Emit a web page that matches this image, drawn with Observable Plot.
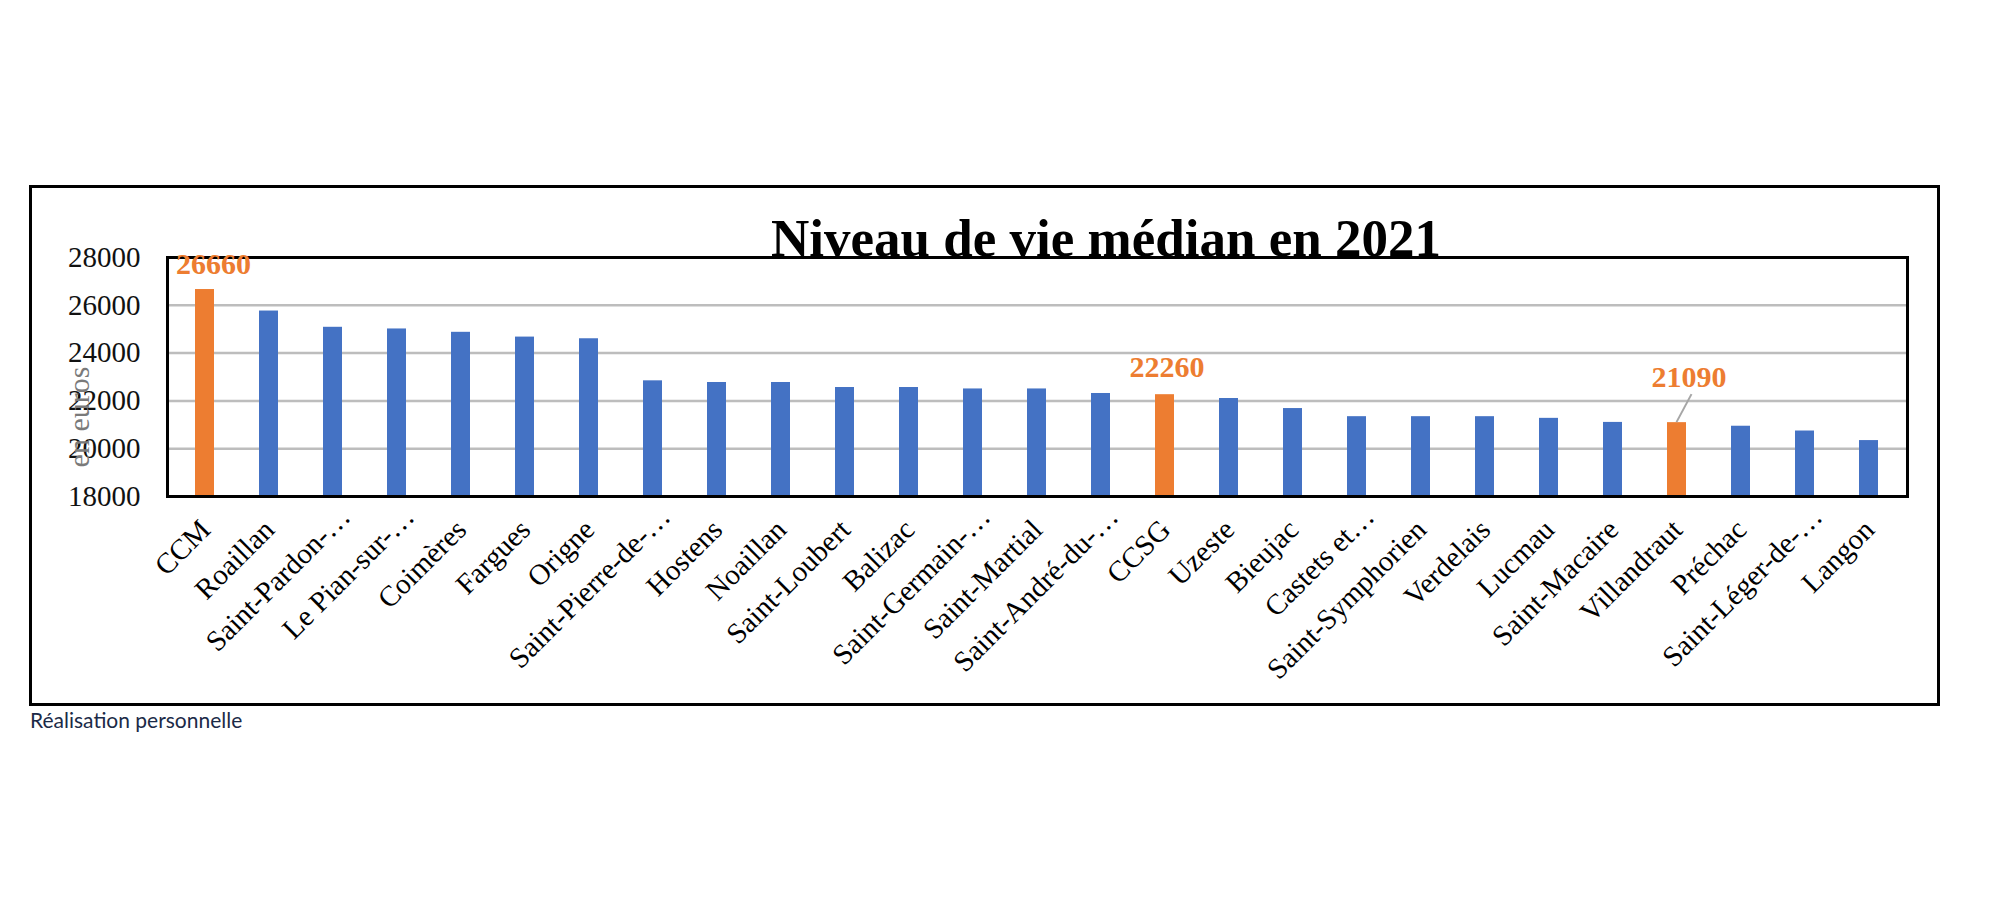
<!DOCTYPE html>
<html>
<head>
<meta charset="utf-8">
<script src="https://cdn.jsdelivr.net/npm/d3@7"></script>
<script src="https://cdn.jsdelivr.net/npm/@observablehq/plot@0.6"></script>
<style>
html, body { margin: 0; padding: 0; background: #fff; }
#page { position: relative; width: 2000px; height: 904px; overflow: hidden; background: #fff; }
#frame { position: absolute; left: 29px; top: 185px; width: 1911px; height: 521px; border: 3px solid #000; box-sizing: border-box; }
#title { position: absolute; left: 1106px; top: 212px; transform: translateX(-50%); margin: 0; font: bold 53px "Liberation Serif", "Times New Roman", serif; line-height: 1; white-space: nowrap; color: #000; }
#chart { position: absolute; left: 0; top: 0; width: 2000px; height: 904px; }
#caption { position: absolute; left: 30px; top: 708px; font: 21px Lato, "Open Sans", sans-serif; line-height: 24px; color: #1b2a47; white-space: nowrap; }
</style>
</head>
<body>
<div id="page">
  <div id="frame"></div>
  <h1 id="title"></h1>
  <div id="chart"></div>
  <div id="caption"></div>
</div>
<script>
// ---- Data ----
const titleText = "Niveau de vie médian en 2021";
const captionText = "Réalisation personnelle";
const yLabel = "en euros";

const communes = [
  "CCM", "Roaillan", "Saint-Pardon-…", "Le Pian-sur-…", "Coimères", "Fargues", "Origne",
  "Saint-Pierre-de-…", "Hostens", "Noaillan", "Saint-Loubert", "Balizac", "Saint-Germain-…",
  "Saint-Martial", "Saint-André-du-…", "CCSG", "Uzeste", "Bieujac", "Castets et…",
  "Saint-Symphorien", "Verdelais", "Lucmau", "Saint-Macaire", "Villandraut", "Préchac",
  "Saint-Léger-de-…", "Langon"
];
const niveauDeVie = [
  26660, 25760, 25080, 25010, 24870, 24670, 24600,
  22840, 22770, 22770, 22560, 22560, 22500,
  22500, 22310, 22260, 22100, 21680, 21340,
  21340, 21340, 21270, 21100, 21090, 20940,
  20740, 20340
];
const highlighted = ["CCM", "CCSG", "Villandraut"];
const yTicks = [18000, 20000, 22000, 24000, 26000, 28000];
const yGrid = [20000, 22000, 24000, 26000];
const yDomain = [18000, 28000];

// ---- Build ----
document.getElementById("title").textContent = titleText;
document.getElementById("caption").textContent = captionText;

const data = communes.map((c, i) => ({
  commune: c,
  valeur: niveauDeVie[i],
  groupe: highlighted.includes(c) ? "mis en avant" : "commune"
}));

const serif = '"Liberation Serif", "Times New Roman", serif';
const orange = "#ED7D31";
const truncated = d => d.commune.endsWith("…");

const valueLabel = (name, dx, dy) =>
  Plot.text(data.filter(d => d.commune === name), {
    x: "commune", y: "valeur", text: d => String(d.valeur),
    dx, dy, fontSize: 30, fontWeight: "bold", fill: orange, fontFamily: serif,
    textAnchor: "middle", lineAnchor: "middle"
  });

const xLabels = (rows, dx, dy) =>
  Plot.text(rows, { x: "commune", frameAnchor: "bottom", text: "commune", rotate: -45,
    textAnchor: "end", lineAnchor: "bottom", dx, dy, fontSize: 29, fill: "#000", fontFamily: serif });

const plot = Plot.plot({
  width: 2000,
  height: 904,
  marginLeft: 167,
  marginRight: 93,
  marginTop: 257,
  marginBottom: 408,
  style: { background: "transparent", fontFamily: serif, fontSize: "29px", overflow: "visible" },
  x: { domain: communes, paddingInner: 0.7, paddingOuter: 0.35, axis: null },
  y: { domain: yDomain },
  color: { domain: ["commune", "mis en avant"], range: ["#4472C4", orange] },
  marks: [
    Plot.gridY(yGrid, { stroke: "#bdbdbd", strokeOpacity: 1, strokeWidth: 2.5 }),
    Plot.barY(data, { x: "commune", y1: yDomain[0], y2: "valeur", fill: "groupe" }),
    Plot.frame({ stroke: "#000", strokeWidth: 3 }),
    Plot.axisY({ ticks: yTicks, tickSize: 0, tickPadding: 27, tickFormat: d3.format("d"),
      fontSize: 29, fill: "#111", fontFamily: serif, label: null }),
    Plot.text([yLabel], { frameAnchor: "left", rotate: -90, textAnchor: "middle", lineAnchor: "middle",
      dx: -88, dy: 40, fontSize: 30, fill: "#7a7a7a", fontFamily: serif }),
    xLabels(data.filter(d => !truncated(d)), 7, 35),
    xLabels(data.filter(truncated), 19, 22),
    valueLabel("CCM", 8.5, -25),
    valueLabel("CCSG", 2, -27),
    valueLabel("Villandraut", 12, -45)
  ]
});

document.getElementById("chart").appendChild(plot);

// leader line for the Villandraut label, positioned through the plot's own scales
const xs = plot.scale("x"), ys = plot.scale("y");
const v = data.find(d => d.commune === "Villandraut");
const cx = xs.apply(v.commune) + xs.bandwidth / 2;
const cy = ys.apply(v.valeur);
d3.select(plot).append("line")
  .attr("x1", cx).attr("y1", cy)
  .attr("x2", cx + 15).attr("y2", cy - 28)
  .attr("stroke", "#a6a6a6").attr("stroke-width", 2);
</script>
</body>
</html>
